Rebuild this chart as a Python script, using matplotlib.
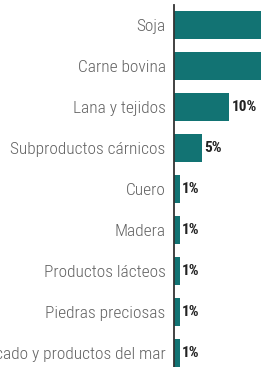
import matplotlib
matplotlib.use('Agg')
import matplotlib.pyplot as plt
from matplotlib import font_manager

# data (top to bottom); first two bars run off the cropped right edge
categories = ['Soja', 'Carne bovina', 'Lana y tejidos', 'Subproductos cárnicos',
              'Cuero', 'Madera', 'Productos lácteos', 'Piedras preciosas',
              'Pescado y productos del mar']
values = [30, 24, 10, 5, 1, 1, 1, 1, 1]
value_labels = ['30%', '24%', '10%', '5%', '1%', '1%', '1%', '1%', '1%']

bar_color = '#127373'
label_color = '#626262'


def pick_narrow_font():
    # look for any installed condensed / narrow face
    wanted = ['Liberation Sans Narrow', 'Roboto Condensed', 'Open Sans Condensed',
              'DejaVu Sans Condensed', 'Noto Sans Condensed']
    names = {f.name for f in font_manager.fontManager.ttflist}
    for w in wanted:
        if w in names:
            return w, 'normal'
    for f in font_manager.fontManager.ttflist:
        if 'condensed' in str(f.stretch).lower() or 'Narrow' in f.name or 'Condensed' in f.name:
            return f.name, f.stretch
    return None, 'normal'


narrow, stretch = pick_narrow_font()
if narrow:
    label_font = dict(family=[narrow, 'DejaVu Sans'], stretch=stretch, fontsize=12.5,
                      fontweight='light')
    value_font = dict(family=[narrow, 'DejaVu Sans'], stretch=stretch, fontsize=11)
else:
    label_font = dict(family='DejaVu Sans', fontsize=9.8)
    value_font = dict(family='DejaVu Sans', fontsize=8.5)

fig = plt.figure(figsize=(2.61, 3.67), dpi=100, facecolor='white')
# axes deliberately extend past the canvas to mimic the cropped source
ax = fig.add_axes([174 / 261, 1 - 380 / 367, 110 / 261, 375 / 367])

y = list(range(len(categories)))
ax.barh(y, values, height=0.7, color=bar_color, zorder=2)

for yi, v, lab in zip(y, values, value_labels):
    ax.annotate(lab, xy=(v, yi), xytext=(2, 0), textcoords='offset points',
                va='center', ha='left', fontweight='bold', color='#222222',
                **value_font)

ax.set_xlim(0, 20)
ax.set_ylim((380 - 25) / 41, -20 / 41)

ax.set_yticks(y)
ax.set_yticklabels(categories, color=label_color, **label_font)
ax.tick_params(axis='y', length=0, pad=6)
ax.set_xticks([])

for side in ['top', 'right', 'bottom']:
    ax.spines[side].set_visible(False)
ax.spines['left'].set_color('#333333')
ax.spines['left'].set_linewidth(1.3)
ax.set_facecolor('none')

fig.savefig('out.png', dpi=100, facecolor='white')
